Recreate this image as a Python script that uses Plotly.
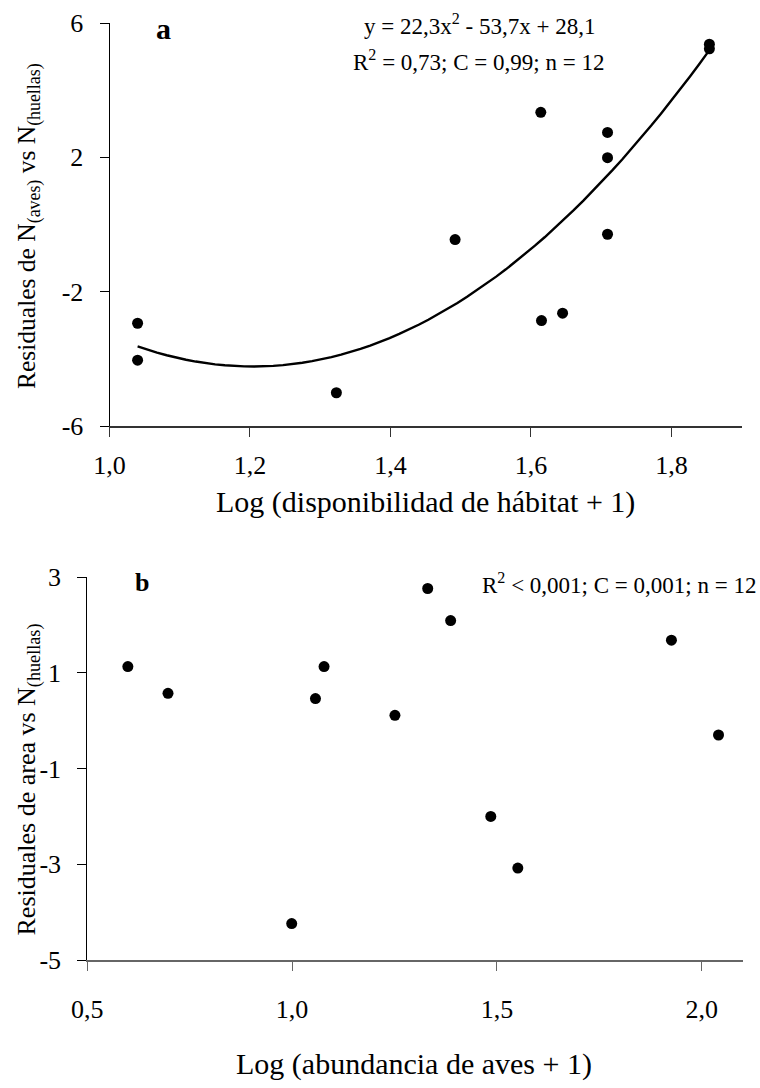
import numpy as np
import plotly.graph_objects as go

# ---------------- data ----------------
# Panel a
a_x = [1.04, 1.04, 1.323, 1.492, 1.614, 1.615, 1.645, 1.709, 1.709, 1.709, 1.854, 1.854]
a_y = [-2.94, -4.04, -5.01, -0.45, 3.34, -2.86, -2.64, 2.74, 1.99, -0.29, 5.37, 5.23]
a_fit_coef = [22.3, -53.7, 28.1]  # y = 22,3x^2 - 53,7x + 28,1
a_xticks = [1.0, 1.2, 1.4, 1.6, 1.8]
a_xticktext = ["1,0", "1,2", "1,4", "1,6", "1,8"]
a_yticks = [-6, -2, 2, 6]
a_yticktext = ["-6", "-2", "2", "6"]

# Panel b
b_x = [0.599, 0.697, 0.999, 1.057, 1.078, 1.251, 1.331, 1.387, 1.485, 1.551, 1.926, 2.041]
b_y = [1.13, 0.57, -4.24, 0.46, 1.13, 0.11, 2.76, 2.09, -2.0, -3.08, 1.68, -0.30]
b_xticks = [0.5, 1.0, 1.5, 2.0]
b_xticktext = ["0,5", "1,0", "1,5", "2,0"]
b_yticks = [-5, -3, -1, 1, 3]
b_yticktext = ["-5", "-3", "-1", "1", "3"]

FONT = "Liberation Serif"
W, H = 760, 1088

def px(x):
    return x / W

def py(y):
    return 1 - y / H

fig = go.Figure()

# trend line (from displayed equation)
fx = np.linspace(min(a_x), max(a_x), 60)
fy = np.polyval(a_fit_coef, fx)
fig.add_trace(go.Scatter(x=fx, y=fy, mode="lines", line=dict(color="black", width=2.4),
                         xaxis="x", yaxis="y", showlegend=False, hoverinfo="skip"))
fig.add_trace(go.Scatter(x=a_x, y=a_y, mode="markers", marker=dict(color="black", size=11),
                         xaxis="x", yaxis="y", showlegend=False))
fig.add_trace(go.Scatter(x=b_x, y=b_y, mode="markers", marker=dict(color="black", size=11),
                         xaxis="x2", yaxis="y2", showlegend=False))

tickfont = dict(family=FONT, size=26, color="black")

def xax(domain, anchor, rng, tv, tt, color, standoff):
    return dict(domain=domain, anchor=anchor, range=rng, tickvals=tv, ticktext=tt,
                showgrid=False, zeroline=False, showline=True, linecolor=color, linewidth=1.5,
                ticks="outside", ticklen=9, tickwidth=1, tickcolor=color,
                tickfont=tickfont, ticklabelstandoff=standoff, fixedrange=True, automargin=False)

def yax(domain, anchor, rng, tv, tt):
    return dict(domain=domain, anchor=anchor, range=rng, tickvals=tv, ticktext=tt,
                showgrid=False, zeroline=False, showline=True, linecolor="black", linewidth=1,
                ticks="outside", ticklen=9, tickwidth=1, tickcolor="black",
                tickfont=tickfont, ticklabelstandoff=11, fixedrange=True, automargin=False)

fig.update_layout(
    width=W, height=H,
    margin=dict(l=0, r=0, t=0, b=0, autoexpand=False),
    paper_bgcolor="white", plot_bgcolor="white",
    font=dict(family=FONT, color="black"),
    showlegend=False,
    xaxis=xax([px(109.5), px(741.7)], "y", [1.0, 1.9], a_xticks, a_xticktext, "#333", 6),
    yaxis=yax([py(426), py(23)], "x", [-6, 6], a_yticks, a_yticktext),
    xaxis2=xax([px(87.3), px(742.7)], "y2", [0.5, 2.1], b_xticks, b_xticktext, "#666", 16),
    yaxis2=yax([py(960), py(577)], "x2", [-5, 3], b_yticks, b_yticktext),
)

ann = [
    dict(text="<b>a</b>", x=px(163), y=py(29), size=30),
    dict(text="<b>b</b>", x=px(141.5), y=py(582), size=26),
    dict(text="y = 22,3x<sup>2</sup> - 53,7x + 28,1", x=px(479), y=py(25), size=23),
    dict(text="R<sup>2</sup> = 0,73; C = 0,99; n = 12", x=px(478.5), y=py(60), size=23),
    dict(text="Log (disponibilidad de hábitat + 1)", x=px(425), y=py(502), size=30),
    dict(text="Log (abundancia de aves + 1)", x=px(414), y=py(1064), size=30),
]
for a in ann:
    fig.add_annotation(text=a["text"], x=a["x"], y=a["y"], xref="paper", yref="paper",
                       xanchor="center", yanchor="middle", showarrow=False,
                       font=dict(family=FONT, size=a["size"], color="black"))

fig.add_annotation(text="R<sup>2</sup> < 0,001; C = 0,001; n = 12", x=px(758), y=py(583),
                   xref="paper", yref="paper", xanchor="right", yanchor="middle",
                   showarrow=False, font=dict(family=FONT, size=23, color="black"))

fig.add_annotation(text="Residuales de N<sub>(aves)</sub> vs N<sub>(huellas)</sub>",
                   x=px(28), y=py(226), xref="paper", yref="paper", textangle=-90,
                   xanchor="center", yanchor="middle", showarrow=False,
                   font=dict(family=FONT, size=25.5, color="black"))
fig.add_annotation(text="Residuales de area vs N<sub>(huellas)</sub>",
                   x=px(27.5), y=py(780), xref="paper", yref="paper", textangle=-90,
                   xanchor="center", yanchor="middle", showarrow=False,
                   font=dict(family=FONT, size=26, color="black"))

fig.write_html("out.html")
